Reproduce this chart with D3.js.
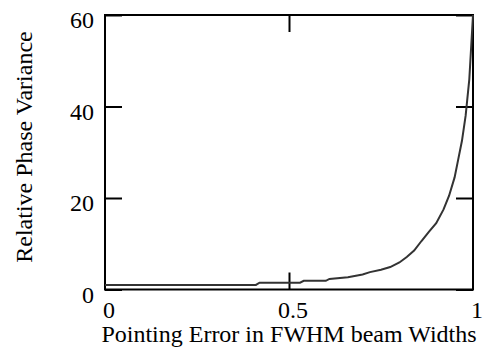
<!DOCTYPE html>
<html>
<head>
<meta charset="utf-8">
<script src="https://cdn.jsdelivr.net/npm/d3@7"></script>
<style>
body { margin: 0; background: #fff; }
</style>
</head>
<body>
<div id="chart"></div>
<script>
// values
var pointing = [0, 0.41, 0.42, 0.53, 0.54, 0.60, 0.61, 0.66, 0.70, 0.72, 0.75, 0.775, 0.80, 0.82, 0.84, 0.86, 0.88, 0.90, 0.92, 0.935, 0.95, 0.96, 0.97, 0.98, 0.99, 1.0];
var variance = [1.0, 1.0, 1.5, 1.5, 1.9, 1.9, 2.3, 2.7, 3.3, 3.8, 4.3, 4.9, 5.9, 7.1, 8.5, 10.6, 12.6, 14.5, 17.5, 20.5, 24.5, 28.5, 32.5, 38, 46, 60];
var xTicks = [0, 0.5, 1];
var yTicks = [0, 20, 40, 60];
var xTickLabels = ["0", "0.5", "1"];
var yTickLabels = ["0", "20", "40", "60"];

function init(){
	var w = 483, h = 358;
	var left = 105, right = 473, top = 15, bottom = 289.5;
	var tickLen = 17;
	var font = "'Liberation Serif', 'DejaVu Serif', serif";
	var fs = 24;

	var x = d3.scaleLinear().domain([0, 1]).range([left, right]);
	var y = d3.scaleLinear().domain([0, 60]).range([bottom, top]);

	var svg = d3.select("#chart").append("svg")
		.attr("width", w)
		.attr("height", h);

	// frame
	svg.append("rect")
		.attr("x", left).attr("y", top)
		.attr("width", right - left).attr("height", bottom - top)
		.attr("fill", "none").attr("stroke", "#000").attr("stroke-width", 2);

	// inward ticks, all four sides
	svg.append("g").attr("transform", "translate(" + left + ",0)")
		.call(d3.axisRight(y).tickValues(yTicks).tickSize(tickLen).tickFormat(""))
		.call(function(g){ g.select(".domain").remove(); });
	svg.append("g").attr("transform", "translate(" + right + ",0)")
		.call(d3.axisLeft(y).tickValues(yTicks).tickSize(tickLen).tickFormat(""))
		.call(function(g){ g.select(".domain").remove(); });
	svg.append("g").attr("transform", "translate(0," + top + ")")
		.call(d3.axisBottom(x).tickValues([0.5]).tickSize(tickLen).tickFormat(""))
		.call(function(g){ g.select(".domain").remove(); });
	svg.append("g").attr("transform", "translate(0," + bottom + ")")
		.call(d3.axisTop(x).tickValues([0.5]).tickSize(tickLen).tickFormat(""))
		.call(function(g){ g.select(".domain").remove(); });
	svg.selectAll(".tick line").attr("stroke", "#000").attr("stroke-width", 2);

	// tick labels
	svg.selectAll(".ylab")
		.data(yTicks)
		.enter().append("text")
		.attr("class", "ylab")
		.attr("font-family", font)
		.attr("font-size", fs)
		.attr("text-anchor", "end")
		.attr("x", left - 11)
		.attr("y", function(d){ return y(d) + 13; })
		.text(function(d, i){ return yTickLabels[i]; });

	svg.selectAll(".xlab")
		.data(xTicks)
		.enter().append("text")
		.attr("class", "xlab")
		.attr("font-family", font)
		.attr("font-size", fs)
		.attr("text-anchor", "middle")
		.attr("x", function(d){ return x(d) + 4; })
		.attr("y", 318)
		.text(function(d, i){ return xTickLabels[i]; });

	// axis titles
	svg.append("text")
		.attr("font-family", font)
		.attr("font-size", fs)
		.attr("text-anchor", "middle")
		.attr("x", (left + right) / 2)
		.attr("y", 342)
		.text("Pointing Error in FWHM beam Widths");

	svg.append("text")
		.attr("font-family", font)
		.attr("font-size", fs)
		.attr("text-anchor", "middle")
		.attr("transform", "translate(32,147) rotate(-90)")
		.text("Relative Phase Variance");

	// curve
	var line = d3.line()
		.x(function(d){ return x(d[0]); })
		.y(function(d){ return y(d[1]); });

	svg.append("path")
		.datum(d3.zip(pointing, variance))
		.attr("d", line)
		.attr("fill", "none")
		.attr("stroke", "#333")
		.attr("stroke-width", 2);
}
window.onload = init;
</script>
</body>
</html>
